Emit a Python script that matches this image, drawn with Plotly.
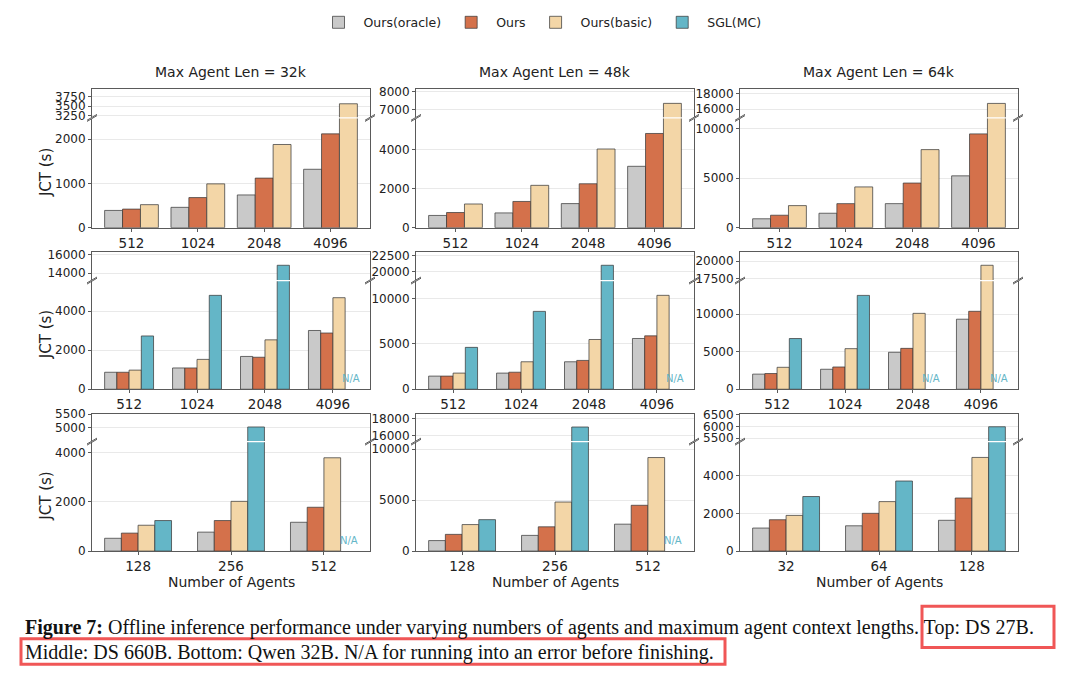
import plotly.graph_objects as go

# ---------------- data ----------------
SERIES = ["Ours(oracle)", "Ours", "Ours(basic)", "SGL(MC)"]
COL_TITLES = ["Max Agent Len = 32k", "Max Agent Len = 48k", "Max Agent Len = 64k"]
AGENTS_TOP = ["512", "1024", "2048", "4096"]
AGENTS_MID = ["512", "1024", "2048", "4096"]
AGENTS_BOT_32K = ["128", "256", "512"]
AGENTS_BOT_48K = ["128", "256", "512"]
AGENTS_BOT_64K = ["32", "64", "128"]

# Top row: DS 27B (no SGL(MC) bars)
ds27_32k_oracle = [390, 460, 740, 1320]
ds27_32k_ours = [420, 680, 1120, 2120]
ds27_32k_basic = [520, 990, 1880, 3560]
ds27_48k_oracle = [630, 760, 1240, 3160]
ds27_48k_ours = [780, 1350, 2260, 4850]
ds27_48k_basic = [1220, 2180, 4050, 7350]
ds27_64k_oracle = [900, 1460, 2430, 5240]
ds27_64k_ours = [1260, 2430, 4510, 9480]
ds27_64k_basic = [2230, 4120, 7890, 16750]

# Middle row: DS 660B (None = N/A)
ds660_32k_oracle = [870, 1090, 1680, 3010]
ds660_32k_ours = [870, 1090, 1640, 2880]
ds660_32k_basic = [980, 1530, 2530, 4690]
ds660_32k_sgl = [2730, 4810, 14840, None]
ds660_48k_oracle = [1450, 1780, 3030, 5600]
ds660_48k_ours = [1450, 1880, 3180, 5890]
ds660_48k_basic = [1780, 3030, 5490, 10360]
ds660_48k_sgl = [4620, 8590, 21000, None]
ds660_64k_oracle = [2010, 2660, 4920, 9320]
ds660_64k_ours = [2090, 2960, 5440, 10370]
ds660_64k_basic = [2920, 5400, 10100, 19390]
ds660_64k_sgl = [6750, 12490, None, None]

# Bottom row: Qwen 32B
qwen_32k_oracle = [520, 770, 1170]
qwen_32k_ours = [730, 1240, 1780]
qwen_32k_basic = [1050, 2020, 3790]
qwen_32k_sgl = [1240, 5030, None]
qwen_48k_oracle = [1030, 1540, 2640]
qwen_48k_ours = [1640, 2380, 4490]
qwen_48k_basic = [2600, 4810, 9170]
qwen_48k_sgl = [3080, 17000, None]
qwen_64k_oracle = [1220, 1340, 1630]
qwen_64k_ours = [1660, 2000, 2810]
qwen_64k_basic = [1890, 2620, 4960]
qwen_64k_sgl = [2890, 3710, 5990]

CAPTION_1 = ("<b>Figure 7:</b> Offline inference performance under varying numbers of agents "
             "and maximum agent context lengths. Top: DS 27B.")
CAPTION_2 = "Middle: DS 660B. Bottom: Qwen 32B. N/A for running into an error before finishing."

# ---------------- styling / layout ----------------
COLORS = {"Ours(oracle)": "#c9c9c9", "Ours": "#d4714b",
          "Ours(basic)": "#f3d6a7", "SGL(MC)": "#64b6c7"}
EDGE = "rgba(60,60,60,0.75)"
SPINE = "#5a5a5a"
GRID = "#e9e9e9"
FONT = "DejaVu Sans"
W, H = 1080, 681

def px(x):
    return x / W

def py(y):
    return 1 - y / H

COLS_PX = [(92, 370), (416, 694), (740, 1018)]
# (upper top, upper bottom, lower top, lower bottom)
ROWS_PX = [(85, 113.5, 114.7, 226), (250.7, 279.3, 280.5, 390.7), (415.7, 443.5, 444.7, 555.7)]

panels = [
    # row 0
    dict(cats=AGENTS_TOP, series=[ds27_32k_oracle, ds27_32k_ours, ds27_32k_basic],
         low=[0, 2467], lowt=[0, 1000, 2000], up=[3204, 3938], upt=[3250, 3500, 3750]),
    dict(cats=AGENTS_TOP, series=[ds27_48k_oracle, ds27_48k_ours, ds27_48k_basic],
         low=[0, 5620], lowt=[0, 2000, 4000], up=[6576, 8125], upt=[7000, 8000]),
    dict(cats=AGENTS_TOP, series=[ds27_64k_oracle, ds27_64k_ours, ds27_64k_basic],
         low=[0, 11034], lowt=[0, 5000, 10000], up=[14975, 18537], upt=[16000, 18000]),
    # row 1
    dict(cats=AGENTS_MID, series=[ds660_32k_oracle, ds660_32k_ours, ds660_32k_basic, ds660_32k_sgl],
         low=[0, 5538], lowt=[0, 2000, 4000], up=[13263, 16274], upt=[14000, 16000]),
    dict(cats=AGENTS_MID, series=[ds660_48k_oracle, ds660_48k_ours, ds660_48k_basic, ds660_48k_sgl],
         low=[0, 11926], lowt=[0, 5000, 10000], up=[18757, 23039], upt=[20000, 22500]),
    dict(cats=AGENTS_MID, series=[ds660_64k_oracle, ds660_64k_ours, ds660_64k_basic, ds660_64k_sgl],
         low=[0, 14386], lowt=[0, 5000, 10000], up=[17274, 21314], upt=[17500, 20000]),
    # row 2
    dict(cats=AGENTS_BOT_32K, series=[qwen_32k_oracle, qwen_32k_ours, qwen_32k_basic, qwen_32k_sgl],
         low=[0, 4422], lowt=[0, 2000, 4000], up=[4518, 5511], upt=[5000, 5500]),
    dict(cats=AGENTS_BOT_48K, series=[qwen_48k_oracle, qwen_48k_ours, qwen_48k_basic, qwen_48k_sgl],
         low=[0, 10673], lowt=[0, 5000, 10000], up=[15318, 18588], upt=[16000, 18000]),
    dict(cats=AGENTS_BOT_64K, series=[qwen_64k_oracle, qwen_64k_ours, qwen_64k_basic, qwen_64k_sgl],
         low=[0, 5766], lowt=[0, 2000, 4000], up=[5383, 6542], upt=[5500, 6000, 6500]),
]

fig = go.Figure()
layout = {}
shapes = []
annotations = []
shown = set()

def ann(text, x, y, size, **kw):
    d = dict(text=text, x=x, y=y, xref="paper", yref="paper", showarrow=False,
             xanchor="center", yanchor="middle",
             font=dict(size=size, color="#222", family=FONT))
    d.update(kw)
    return d

for p, pan in enumerate(panels):
    r, c = divmod(p, 3)
    x0, x1 = COLS_PX[c]
    ut, ub, lt, lb = ROWS_PX[r]
    nser = len(pan["series"])
    ncat = len(pan["cats"])
    w = 0.27 if nser == 3 else 0.18
    half = nser * w / 2
    pad = 0.05 * (ncat - 1 + 2 * half)
    xr = [-half - pad, ncat - 1 + half + pad]
    xs = list(range(ncat))
    iu, il = 2 * p + 1, 2 * p + 2
    for k, vals in enumerate(pan["series"]):
        name = SERIES[k]
        for idx in (iu, il):
            fig.add_trace(go.Bar(
                x=xs, y=vals, width=w, offset=-half + k * w, name=name,
                legendgroup=name, showlegend=(name not in shown),
                marker=dict(color=COLORS[name], line=dict(color=EDGE, width=1)),
                xaxis="x" if idx == 1 else f"x{idx}",
                yaxis="y" if idx == 1 else f"y{idx}",
            ))
            shown.add(name)
        if k == 3:
            for i, v in enumerate(vals):
                if v is None:
                    annotations.append(dict(
                        text="N/A", x=i - half + 3.5 * w, xref=f"x{il}",
                        y=0.1, yref=f"y{il} domain", showarrow=False,
                        font=dict(size=10, color=COLORS[name], family=FONT),
                        xanchor="center", yanchor="middle"))
    xd = [px(x0), px(x1)]
    sx_u = "xaxis" if iu == 1 else f"xaxis{iu}"
    sy_u = "yaxis" if iu == 1 else f"yaxis{iu}"
    layout[sx_u] = dict(domain=xd, range=xr, showticklabels=False, ticks="",
                        showline=True, linecolor=SPINE, linewidth=1, side="top",
                        showgrid=False, zeroline=False, anchor=f"y{iu}" if iu > 1 else "y")
    layout[sy_u] = dict(domain=[py(ub), py(ut)], range=pan["up"], tickvals=pan["upt"],
                        ticktext=[str(v) for v in pan["upt"]],
                        showline=True, mirror=True, linecolor=SPINE, linewidth=1,
                        ticks="outside", ticklen=3, tickcolor=SPINE,
                        showgrid=True, gridcolor=GRID, zeroline=False,
                        tickfont=dict(size=12, color="#222", family=FONT),
                        anchor=f"x{iu}" if iu > 1 else "x")
    layout[f"xaxis{il}"] = dict(domain=xd, range=xr, tickvals=xs, ticktext=pan["cats"],
                                showline=True, linecolor=SPINE, linewidth=1,
                                ticks="outside", ticklen=3, tickcolor=SPINE,
                                showgrid=False, zeroline=False,
                                tickfont=dict(size=13.5, color="#222", family=FONT),
                                anchor=f"y{il}")
    layout[f"yaxis{il}"] = dict(domain=[py(lb), py(lt)], range=pan["low"], tickvals=pan["lowt"],
                                ticktext=[str(v) for v in pan["lowt"]],
                                showline=True, mirror=True, linecolor=SPINE, linewidth=1,
                                ticks="outside", ticklen=3, tickcolor=SPINE,
                                showgrid=True, gridcolor=GRID, zeroline=False,
                                tickfont=dict(size=12, color="#222", family=FONT),
                                anchor=f"x{il}")
    # break marks
    for xb in (x0, x1):
        for yb in (ub, lt):
            shapes.append(dict(type="line", xref="paper", yref="paper",
                               x0=px(xb - 5), y0=py(yb + 3), x1=px(xb + 5), y1=py(yb - 3),
                               line=dict(color=SPINE, width=1)))
    if c == 0:
        annotations.append(ann("JCT (s)", px(46), py((lt + lb) / 2), 15, textangle=-90))
    if r == 0:
        annotations.append(ann(COL_TITLES[c], px((x0 + x1) / 2), py(67), 14))
    if r == 2:
        annotations.append(ann("Number of Agents", px((x0 + x1) / 2), py(587), 14))

cap_font = dict(size=20, color="#111", family="Liberation Serif")
annotations.append(dict(text=CAPTION_1, x=px(23), y=py(634), xref="paper", yref="paper",
                        xanchor="left", yanchor="middle", showarrow=False, font=cap_font))
annotations.append(dict(text=CAPTION_2, x=px(23), y=py(659), xref="paper", yref="paper",
                        xanchor="left", yanchor="middle", showarrow=False, font=cap_font))
for (a, b, cc, d) in [(922, 612, 1054, 654), (21, 645, 725, 671)]:
    shapes.append(dict(type="rect", xref="paper", yref="paper",
                       x0=px(a), y0=py(d), x1=px(cc), y1=py(b),
                       line=dict(color="#f05656", width=3)))

fig.update_layout(**layout)
fig.update_layout(
    width=W, height=H, margin=dict(l=0, r=0, t=0, b=0),
    plot_bgcolor="white", paper_bgcolor="white", barmode="overlay",
    shapes=shapes, annotations=annotations,
    legend=dict(orientation="h", x=0.5, xanchor="center", y=py(17), yanchor="middle",
                itemwidth=40,
                font=dict(size=12.5, color="#222", family=FONT), bgcolor="rgba(0,0,0,0)"),
)
fig.write_html("out.html")
